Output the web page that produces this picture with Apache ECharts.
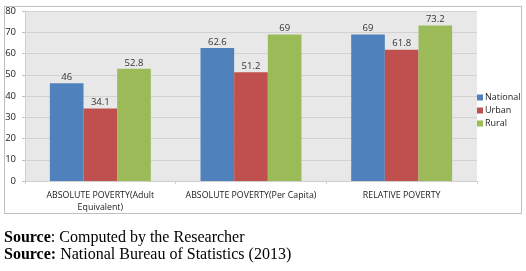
<!DOCTYPE html>
<html>
<head>
<meta charset="utf-8">
<script src="https://cdn.jsdelivr.net/npm/echarts@6/dist/echarts.min.js"></script>
<style>
  html, body { margin: 0; padding: 0; background: #ffffff; }
  #wrap { position: relative; width: 526px; height: 271px; overflow: hidden; }
  #box { position: absolute; left: 4px; top: 6px; width: 518px; height: 208px; border: 1px solid #bfbfbf; box-sizing: border-box; }
  #chart { position: absolute; left: 0; top: 0; width: 526px; height: 271px; }
  .src { position: absolute; left: 4px; font-family: "Liberation Serif", "Times New Roman", serif; font-size: 16px; line-height: 17px; color: #000; white-space: nowrap; }
</style>
</head>
<body>
<div id="wrap">
  <div id="box"></div>
  <div id="chart"></div>
  <div class="src" style="top:228px"><b>Source</b>: Computed by the Researcher</div>
  <div class="src" style="top:245px"><b>Source:</b> National Bureau of Statistics (2013)</div>
</div>
<script>
const categories = ["ABSOLUTE POVERTY(Adult\nEquivalent)", "ABSOLUTE POVERTY(Per Capita)", "RELATIVE POVERTY"];
const national = [46, 62.6, 69];
const urban = [34.1, 51.2, 61.8];
const rural = [52.8, 69, 73.2];
const yTicks = { min: 0, max: 80, interval: 10 };

const font = '"Open Sans", "Liberation Sans", sans-serif';
const chart = echarts.init(document.getElementById('chart'), null, { renderer: 'canvas' });
const labelCfg = { show: true, position: 'top', distance: 1, fontSize: 9.5, fontFamily: font, color: '#333333' };
chart.setOption({
  animation: false,
  backgroundColor: 'transparent',
  grid: { left: 25, right: 49, top: 11, bottom: 90, backgroundColor: '#e8e8e8', show: true, borderWidth: 0 },
  legend: {
    orient: 'vertical', left: 472, top: 88,
    itemWidth: 6, itemHeight: 6, itemGap: 4, icon: 'rect',
    textStyle: { fontSize: 9, fontFamily: font, color: '#222222', padding: [0, 0, 0, -3] },
    data: ['National', 'Urban', 'Rural']
  },
  xAxis: {
    type: 'category', data: categories,
    axisLine: { lineStyle: { color: '#cfcfcf' } },
    axisTick: { show: true, length: 3, lineStyle: { color: '#cfcfcf' } },
    axisLabel: { fontSize: 8.8, fontFamily: font, color: '#222222', margin: 8, lineHeight: 12, interval: 0 }
  },
  yAxis: {
    type: 'value', min: yTicks.min, max: yTicks.max, interval: yTicks.interval,
    axisLine: { show: true, lineStyle: { color: '#cfcfcf' } },
    axisTick: { show: true, length: 3, lineStyle: { color: '#bfbfbf' } },
    splitLine: { lineStyle: { color: '#d2d2d2' } },
    axisLabel: { fontSize: 9.5, fontFamily: font, color: '#222222', margin: 9 }
  },
  series: [
    { name: 'National', type: 'bar', data: national, itemStyle: { color: '#4f81bd' }, barGap: '0%', barCategoryGap: '33%', label: labelCfg },
    { name: 'Urban', type: 'bar', data: urban, itemStyle: { color: '#c0504d' }, label: labelCfg },
    { name: 'Rural', type: 'bar', data: rural, itemStyle: { color: '#9bbb59' }, label: labelCfg }
  ]
});
</script>
</body>
</html>
